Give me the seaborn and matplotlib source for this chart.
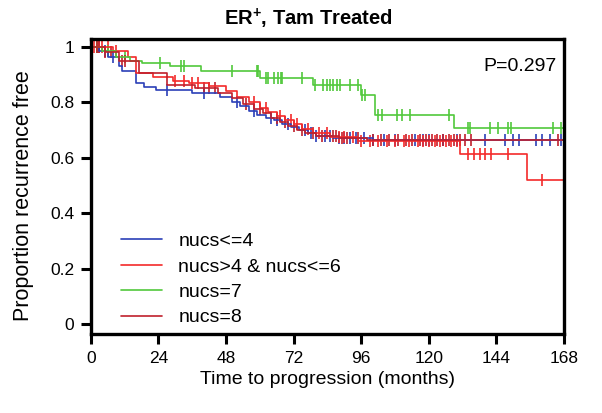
import numpy as np
import pandas as pd
import matplotlib
matplotlib.use("Agg")
import matplotlib.pyplot as plt
import seaborn as sns
from matplotlib.lines import Line2D

sns.set_style("white")
plt.rcParams['font.family'] = ['Liberation Sans', 'DejaVu Sans']
plt.rcParams['mathtext.fontset'] = 'custom'
plt.rcParams['mathtext.rm'] = 'Liberation Sans'
plt.rcParams['mathtext.bf'] = 'Liberation Sans:bold'
plt.rcParams['text.color'] = 'black'
plt.rcParams['axes.labelcolor'] = 'black'
plt.rcParams['xtick.color'] = 'black'
plt.rcParams['ytick.color'] = 'black'

groups = ["nucs<=4", "nucs>4 & nucs<=6", "nucs=7", "nucs=8"]
colors = ["#2b3fb8", "#f42a2a", "#52c83c", "#c0202c"]
end_time = 168

# nucs<=4
t_blue = [0, 3, 6, 10, 11, 16, 19, 23, 36, 46, 50, 53, 56, 59, 62, 65, 68, 71, 74, 77, 80, 86, 100]
s_blue = [1.0, 0.985, 0.965, 0.93, 0.913, 0.87, 0.855, 0.845, 0.834, 0.82, 0.80, 0.785, 0.77,
          0.755, 0.745, 0.735, 0.72, 0.71, 0.70, 0.69, 0.68, 0.672, 0.665]
c_blue = [2, 5, 8, 27, 40, 52, 58, 64, 66, 70, 76, 78, 80, 83, 85, 88, 90, 92, 94, 97, 100, 104,
          108, 115, 118, 120, 125, 130, 140, 147, 150, 152, 158, 160, 163, 167]

# nucs>4 & nucs<=6
t_red = [0, 8, 13, 16, 22, 29, 35, 42, 48, 52, 56, 60, 63, 66, 69, 72, 75, 79, 85, 95, 131, 155]
s_red = [1.0, 0.985, 0.965, 0.905, 0.89, 0.877, 0.87, 0.86, 0.84, 0.82, 0.80, 0.78, 0.765, 0.75,
         0.735, 0.72, 0.705, 0.69, 0.675, 0.66, 0.615, 0.52]
c_red = [1, 2, 3, 4, 6, 9, 30, 33, 36, 38, 58, 62, 67, 71, 73, 77, 81, 84, 88, 90, 93, 96, 99, 102,
         105, 108, 111, 113, 116, 118, 120, 122, 124, 126, 128, 130, 134, 136, 138, 140, 142, 148, 160]

# nucs=7
t_green = [0, 4, 9, 14, 18, 28, 39, 60, 79, 96, 101, 129]
s_green = [1.0, 0.985, 0.965, 0.95, 0.94, 0.93, 0.914, 0.888, 0.863, 0.827, 0.755, 0.708]
c_green = [2, 6, 12, 24.5, 32, 33, 50, 59, 59.5, 62, 63, 65, 66.5, 67.5, 68, 75, 79.5, 82.5, 84,
           85, 86, 87.5, 88.5, 92, 95, 96.3, 97.3, 102, 103.4, 108.7, 110.5, 113.3, 127, 134,
           134.6, 141.7, 144.6, 148, 149, 164, 167]

# nucs=8
t_dred = [0, 5, 10, 17, 27, 37, 45, 50, 54, 58, 61, 64, 67, 70, 73, 76, 80, 88, 98]
s_dred = [1.0, 0.98, 0.95, 0.906, 0.863, 0.85, 0.835, 0.815, 0.795, 0.775, 0.76, 0.745, 0.73,
          0.715, 0.70, 0.69, 0.68, 0.67, 0.665]
c_dred = [2, 3, 5, 7, 11, 12, 40, 42, 44, 55, 60, 66, 69, 72, 75, 79, 82, 86, 87, 89, 91, 95, 100,
          103, 106, 109, 112, 114, 117, 119, 121, 123, 125, 127, 129, 131, 133, 135, 166]

series = [(t_blue, s_blue, c_blue), (t_red, s_red, c_red),
          (t_green, s_green, c_green), (t_dred, s_dred, c_dred)]

line_rows, cens_rows = [], []
for g, (t, s, c) in zip(groups, series):
    t = np.asarray(t, float); s = np.asarray(s, float)
    tt = np.append(t, end_time); ss = np.append(s, s[-1])
    for a, b in zip(tt, ss):
        line_rows.append((g, a, b))
    idx = np.searchsorted(t, np.asarray(c, float), side="right") - 1
    for a, b in zip(c, s[idx]):
        cens_rows.append((g, a, b))
lines_df = pd.DataFrame(line_rows, columns=["group", "time", "surv"])
cens_df = pd.DataFrame(cens_rows, columns=["group", "time", "surv"])
palette = dict(zip(groups, colors))

fig = plt.figure(figsize=(6.02, 4.13), dpi=100)
ax = fig.add_axes([0.151, 0.191, 0.786, 0.715])

for g in groups:
    sns.lineplot(data=lines_df[lines_df.group == g], x="time", y="surv", color=palette[g],
                 drawstyle="steps-post", estimator=None, sort=False, lw=1.2, ax=ax, legend=False)
    sns.scatterplot(data=cens_df[cens_df.group == g], x="time", y="surv", color=palette[g],
                    marker="|", s=85, linewidth=1.2, ax=ax, legend=False)

ax.set_xlim(0, 168)
ax.set_ylim(-0.036, 1.029)
ax.set_xticks(np.arange(0, 169, 24))
ax.set_yticks([0, 0.2, 0.4, 0.6, 0.8, 1.0])
ax.set_yticklabels(["0", "0.2", "0.4", "0.6", "0.8", "1"])
for sp in ax.spines.values():
    sp.set_linewidth(2.4)
    sp.set_color("black")
ax.tick_params(axis="both", direction="out", length=7, width=2.2, labelsize=12.5,
               colors="black", left=True, bottom=True, pad=5)
ax.set_xlabel("Time to progression (months)", fontsize=14, labelpad=4)
ax.set_ylabel("Proportion recurrence free", fontsize=15.5)
ax.yaxis.set_label_coords(-0.12, 0.47)
ax.set_title(r"ER$^{\mathbf{+}}$, Tam Treated", fontsize=14.5, fontweight="bold", pad=10, x=0.46)
ax.text(0.985, 0.905, "P=0.297", transform=ax.transAxes, ha="right", va="center", fontsize=14)

handles = [Line2D([0], [0], color=c, lw=1.2) for c in colors]
ax.legend(handles, groups, loc="lower left", bbox_to_anchor=(0.035, -0.02), frameon=False,
          fontsize=14, handlelength=2.1, handletextpad=0.85, labelspacing=0.4, borderaxespad=0.3)

fig.savefig("out.png", dpi=100)
